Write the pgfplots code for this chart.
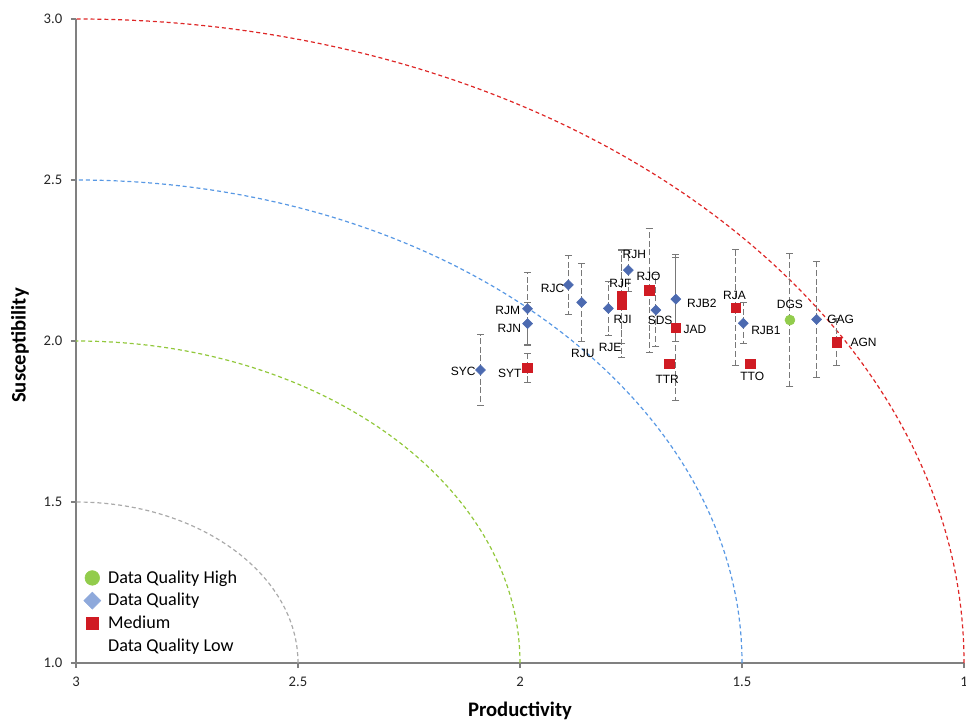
\documentclass[border=0pt]{standalone}
\usepackage{fontspec}
\setmainfont{Carlito}
\newfontfamily\arialf{Liberation Sans}
\usepackage{pgfplots}
\usepackage{pgfplotstable}
\pgfplotsset{compat=1.18}
\definecolor{dblue}{RGB}{76,106,176}
\definecolor{dred}{RGB}{208,27,35}
\definecolor{dgreen}{RGB}{146,204,76}
\definecolor{lblue}{RGB}{142,169,219}
\definecolor{arcred}{RGB}{222,38,38}
\definecolor{arcblue}{RGB}{88,152,228}
\definecolor{arcgreen}{RGB}{146,200,60}
\definecolor{arcgray}{RGB}{170,170,170}
\definecolor{axgray}{RGB}{128,128,128}
\definecolor{ebgray}{RGB}{120,120,120}

% x = Productivity, y = Susceptibility, ep/em = error, dx/dy = label offset (pt)
\pgfplotstableread{
x     y     ep    em    lab   dx    dy
2.089 1.910 0.110 0.110 SYC  -13.0  -1.3
1.983 2.100 0.112 0.112 RJM  -14.8  -1.0
1.983 2.054 0.067 0.067 RJN  -13.7  -3.5
1.891 2.174 0.092 0.092 RJC  -11.8  -2.5
1.861 2.120 0.121 0.121 RJU    0.8 -38.3
1.801 2.101 0.083 0.083 RJE    1.3 -29.5
1.756 2.220 0.065 0.065 RJH    4.5  11.8
1.694 2.096 0.112 0.112 SDS    3.2  -7.5
1.649 2.130 0.130 0.130 RJB2  19.5  -2.8
1.497 2.055 0.064 0.064 RJB1  17.0  -5.0
1.332 2.067 0.181 0.181 GAG   18.0   0.0
}\bluedata

\pgfplotstableread{
x     y     ep    em    lab   dx    dy
1.983 1.917 0.045 0.045 SYT  -13.3  -4.0
1.771 2.138 0.147 0.147 RJF   -1.0  10.0
1.771 2.114 0.166 0.166 RJI    0.8 -11.3
1.709 2.158 0.193 0.193 RJO   -0.5  10.0
1.649 2.041 0.227 0.227 JAD   14.3  -1.2
1.664 1.929 0.000 0.000 TTR   -1.5 -12.0
1.514 2.103 0.180 0.180 RJA   -1.0   9.0
1.482 1.929 0.000 0.000 TTO    1.7  -9.5
1.287 1.996 0.073 0.073 AGN   20.3   0.0
}\reddata

\pgfplotstableread{
x     y     ep    em    lab   dx    dy
1.392 2.065 0.206 0.206 DGS    0.0  11.8
}\greendata

\pgfplotsset{
  ptlabels/.style={
    nodes near coords,
    point meta=explicit symbolic,
    visualization depends on={\thisrow{dx}\as\dx},
    visualization depends on={\thisrow{dy}\as\dy},
    nodes near coords style={font=\arialf\fontsize{9}{10}\selectfont, text=black, anchor=center, inner sep=0pt, xshift=\dx*1pt, yshift=\dy*1pt},
  },
  myerr/.style={
    error bars/.cd, y dir=both, y explicit,
    error bar style={ebgray, line width=0.8pt, dash pattern=on 4.5pt off 2pt},
    error mark options={rotate=90, ebgray, mark size=2.6pt, line width=0.7pt, solid},
  },
}

\begin{document}
\begin{tikzpicture}
\begin{axis}[name=ax,
  x=333pt, y=241.5pt,
  xmin=1, xmax=3, ymin=1, ymax=3,
  x dir=reverse,
  axis x line*=bottom, axis y line*=left,
  axis line style={-, axgray, line width=1pt},
  xtick={1,1.5,2,2.5,3}, xticklabels={1,1.5,2,2.5,3},
  ytick={1,1.5,2,2.5,3}, yticklabels={1.0,1.5,2.0,2.5,3.0},
  tick align=outside, major tick length=3.75pt,
  tick style={axgray, line width=0.8pt},
  ticklabel style={font=\fontsize{11}{13}\selectfont, text=black!85},
  xticklabel style={yshift=-3pt},
  yticklabel style={xshift=-3pt},
  xlabel={Productivity}, ylabel={Susceptibility},
  label style={font=\bfseries\fontsize{15.5}{18}\selectfont},
  xlabel style={at={(axis description cs:0.5,0)}, anchor=center, yshift=-36pt},
  ylabel style={at={(axis description cs:0,0.5)}, anchor=center, yshift=42pt, xshift=-3.4pt},
  clip=false,
  legend style={draw=none, fill=none, at={(axis description cs:0,0)}, anchor=south west,
    xshift=0.5pt, yshift=3pt, font=\fontsize{13.6}{16}\selectfont, row sep=2.1pt, column sep=3.5pt},
  legend cell align=left,
]
% reference quarter circles centred on (3,1)
\draw[arcgray, line width=0.9pt, dash pattern=on 3pt off 2.2pt] (axis cs:2.5,1) arc[start angle=0, end angle=90, x radius=166.5pt, y radius=120.75pt];
\draw[arcgreen, line width=0.9pt, dash pattern=on 3pt off 2.2pt] (axis cs:2,1) arc[start angle=0, end angle=90, x radius=333pt, y radius=241.5pt];
\draw[arcblue, line width=0.9pt, dash pattern=on 3pt off 2.2pt] (axis cs:1.5,1) arc[start angle=0, end angle=90, x radius=499.5pt, y radius=362.25pt];
\draw[arcred, line width=0.9pt, dash pattern=on 3pt off 2.2pt] (axis cs:1,1) arc[start angle=0, end angle=90, x radius=666pt, y radius=483pt];

\addlegendimage{only marks, mark=*, mark size=5.5pt, dgreen}
\addlegendentry{Data Quality High}
\addlegendimage{only marks, mark=square*, mark size=4.5pt, mark options={rotate=45}, lblue}
\addlegendentry{Data Quality}
\addlegendimage{only marks, mark=square*, mark size=4.7pt, dred}
\addlegendentry{Medium}
\addlegendimage{empty legend}
\addlegendentry{Data Quality Low}

\addplot[forget plot, only marks, mark=square*, mark size=2.65pt, mark options={rotate=45, fill=dblue, draw=dblue}, ptlabels, myerr]
  table[x=x, y=y, y error plus=ep, y error minus=em, meta=lab] {\bluedata};
\addplot[forget plot, only marks, mark=square*, mark size=3.6pt, mark options={fill=dred, draw=dred}, ptlabels, myerr]
  table[x=x, y=y, y error plus=ep, y error minus=em, meta=lab] {\reddata};
\addplot[forget plot, only marks, mark=*, mark size=3.75pt, mark options={fill=dgreen, draw=dgreen}, ptlabels, myerr]
  table[x=x, y=y, y error plus=ep, y error minus=em, meta=lab] {\greendata};
\end{axis}
\pgfresetboundingbox
\path (ax.south west) ++(-57pt,-43.5pt) rectangle ++(724.5pt,540.75pt);
\end{tikzpicture}
\end{document}
